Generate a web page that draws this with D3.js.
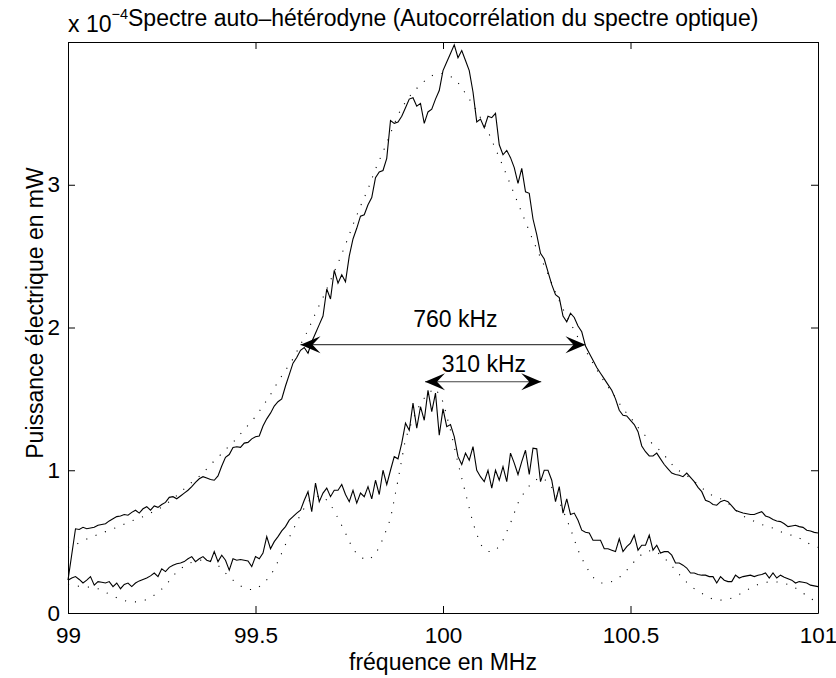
<!DOCTYPE html>
<html>
<head>
<meta charset="utf-8">
<script src="https://cdn.jsdelivr.net/npm/d3@7/dist/d3.min.js"></script>
<style>
  html, body { margin: 0; padding: 0; background: #fff; }
  svg { display: block; }
  text { font-family: "Liberation Sans", Arial, Helvetica, sans-serif; fill: #000; }
</style>
</head>
<body>
<svg id="chart" width="836" height="678"></svg>
<script>
// Frequency axis (MHz) and tick values
const freqStart = 99;
const fineStep = 0.01;   // sampling of the measured spectra
const fitStep = 0.02;    // sampling of the fitted curves
const xTicks = [99, 99.5, 100, 100.5, 101];
const xTickLabels = ["99", "99.5", "100", "100.5", "101"];
const yTicks = [0, 1, 2, 3];
const yTickLabels = ["0", "1", "2", "3"];

// Measured self-heterodyne spectrum, wide line (x 1e-4 mW), 99.00 .. 101.00 MHz
const upperMeasured = [
  0.23, 0.41, 0.59, 0.585, 0.60, 0.59, 0.595, 0.60, 0.615, 0.62,
  0.625, 0.645, 0.66, 0.675, 0.68, 0.69, 0.685, 0.705, 0.72, 0.70,
  0.73, 0.745, 0.72, 0.75, 0.74, 0.76, 0.775, 0.81, 0.815, 0.80,
  0.82, 0.84, 0.86, 0.885, 0.915, 0.94, 0.955, 0.945, 0.935, 0.93,
  0.96, 1.03, 1.09, 1.11, 1.16, 1.165, 1.16, 1.19, 1.195, 1.22,
  1.235, 1.24, 1.31, 1.36, 1.40, 1.45, 1.48, 1.50, 1.59, 1.67,
  1.75, 1.79, 1.84, 1.86, 1.82, 1.90, 1.96, 2.02, 2.08, 2.27,
  2.20, 2.40, 2.31, 2.37, 2.32, 2.50, 2.62, 2.695, 2.78, 2.79,
  2.86, 2.91, 3.05, 3.09, 3.10, 3.185, 3.45, 3.43, 3.44, 3.48,
  3.54, 3.60, 3.61, 3.55, 3.57, 3.43, 3.51, 3.53, 3.60, 3.66,
  3.80, 3.86, 3.92, 3.98, 3.89, 3.94, 3.87, 3.80, 3.65, 3.44,
  3.46, 3.40, 3.48, 3.47, 3.50, 3.28, 3.21, 3.24, 3.19, 3.12,
  3.01, 3.115, 2.95, 2.94, 2.76, 2.65, 2.52, 2.48, 2.39, 2.30,
  2.23, 2.21, 2.08, 2.04, 2.10, 2.07, 2.01, 1.97, 1.87, 1.82,
  1.77, 1.72, 1.68, 1.64, 1.60, 1.56, 1.50, 1.42, 1.385, 1.38,
  1.35, 1.32, 1.27, 1.17, 1.13, 1.10, 1.10, 1.12, 1.08, 1.04,
  1.01, 0.98, 0.97, 0.965, 0.955, 0.98, 0.95, 0.92, 0.88, 0.85,
  0.79, 0.78, 0.76, 0.755, 0.78, 0.79, 0.78, 0.75, 0.72, 0.71,
  0.70, 0.695, 0.69, 0.69, 0.70, 0.71, 0.68, 0.67, 0.655, 0.645,
  0.64, 0.625, 0.605, 0.61, 0.615, 0.605, 0.60, 0.58, 0.575, 0.565,
  0.56
];

// Measured self-heterodyne spectrum, narrow line (x 1e-4 mW), 99.00 .. 101.00 MHz
const lowerMeasured = [
  0.23, 0.245, 0.255, 0.235, 0.21, 0.23, 0.255, 0.195, 0.22, 0.215,
  0.21, 0.22, 0.185, 0.21, 0.17, 0.20, 0.21, 0.185, 0.21, 0.225,
  0.235, 0.245, 0.26, 0.28, 0.255, 0.31, 0.29, 0.32, 0.335, 0.345,
  0.35, 0.36, 0.38, 0.395, 0.36, 0.38, 0.395, 0.37, 0.36, 0.43,
  0.36, 0.405, 0.37, 0.30, 0.38, 0.37, 0.375, 0.37, 0.365, 0.325,
  0.395, 0.38, 0.42, 0.535, 0.45, 0.50, 0.535, 0.575, 0.605, 0.65,
  0.675, 0.70, 0.72, 0.79, 0.85, 0.71, 0.91, 0.78, 0.84, 0.875,
  0.815, 0.86, 0.86, 0.90, 0.83, 0.78, 0.86, 0.77, 0.84, 0.815,
  0.885, 0.80, 0.93, 0.83, 1.00, 0.90, 1.00, 1.095, 1.08, 1.19,
  1.33, 1.28, 1.47, 1.295, 1.445, 1.35, 1.56, 1.41, 1.54, 1.245,
  1.43, 1.305, 1.32, 1.235, 1.095, 1.04, 1.12, 1.07, 1.165, 1.00,
  0.955, 0.92, 1.00, 0.875, 1.00, 0.93, 1.025, 0.92, 1.12, 1.05,
  0.97, 1.06, 1.14, 0.97, 1.155, 1.15, 0.92, 1.00, 1.00, 0.93,
  0.78, 0.885, 0.70, 0.80, 0.69, 0.70, 0.65, 0.58, 0.565, 0.56,
  0.51, 0.51, 0.51, 0.45, 0.45, 0.44, 0.43, 0.52, 0.43, 0.465,
  0.49, 0.545, 0.44, 0.475, 0.475, 0.545, 0.44, 0.475, 0.42, 0.43,
  0.43, 0.405, 0.35, 0.35, 0.335, 0.315, 0.28, 0.28, 0.27, 0.265,
  0.265, 0.255, 0.255, 0.21, 0.255, 0.23, 0.22, 0.22, 0.265, 0.245,
  0.255, 0.26, 0.265, 0.255, 0.265, 0.27, 0.28, 0.245, 0.28, 0.245,
  0.265, 0.25, 0.24, 0.23, 0.21, 0.22, 0.215, 0.21, 0.195, 0.19,
  0.185
];

// Theoretical fits (x 1e-4 mW), 99.00 .. 101.00 MHz every 20 kHz
const upperFit = [
  0.46, 0.48, 0.505, 0.53, 0.55, 0.57, 0.59, 0.61, 0.635, 0.655,
  0.675, 0.70, 0.725, 0.76, 0.80, 0.845, 0.895, 0.935, 0.98, 1.04,
  1.09, 1.145, 1.195, 1.255, 1.315, 1.375, 1.45, 1.53, 1.62, 1.70,
  1.78, 1.88, 1.98, 2.10, 2.21, 2.33, 2.45, 2.58, 2.72, 2.85,
  2.97, 3.11, 3.23, 3.36, 3.49, 3.58, 3.65, 3.70, 3.75, 3.775,
  3.78, 3.76, 3.715, 3.64, 3.56, 3.47, 3.375, 3.25, 3.13, 3.00,
  2.87, 2.74, 2.61, 2.49, 2.375, 2.245, 2.13, 2.03, 1.93, 1.84,
  1.75, 1.66, 1.585, 1.51, 1.43, 1.37, 1.30, 1.24, 1.18, 1.135,
  1.075, 1.01, 0.98, 0.945, 0.90, 0.855, 0.82, 0.80, 0.77, 0.72,
  0.68, 0.655, 0.63, 0.61, 0.595, 0.57, 0.55, 0.54, 0.51, 0.48,
  0.46
];

const lowerFit = [
  0.20, 0.19, 0.185, 0.18, 0.17, 0.145, 0.12, 0.095, 0.08, 0.078,
  0.085, 0.105, 0.145, 0.19, 0.26, 0.31, 0.345, 0.365, 0.372, 0.365,
  0.335, 0.28, 0.23, 0.19, 0.165, 0.165, 0.205, 0.26, 0.36, 0.48,
  0.58, 0.69, 0.78, 0.815, 0.82, 0.76, 0.665, 0.56, 0.445, 0.39,
  0.37, 0.41, 0.52, 0.66, 0.93, 1.22, 1.36, 1.47, 1.54, 1.575,
  1.48, 1.28, 1.05, 0.84, 0.63, 0.48, 0.43, 0.435, 0.51, 0.63,
  0.77, 0.86, 0.92, 0.95, 0.92, 0.84, 0.72, 0.59, 0.44, 0.33,
  0.25, 0.21, 0.21, 0.23, 0.27, 0.33, 0.39, 0.43, 0.44, 0.41,
  0.36, 0.30, 0.24, 0.19, 0.15, 0.125, 0.095, 0.09, 0.095, 0.115,
  0.145, 0.175, 0.20, 0.215, 0.22, 0.215, 0.20, 0.175, 0.14, 0.10,
  0.08
];

// Linewidth annotations: double arrows spanning the measured widths
const spanLabels = ["760 kHz", "310 kHz"];
const spanFrom = [99.62, 99.952];
const spanTo = [100.38, 100.262];
const spanLevel = [1.88, 1.62];
const spanLabelFreq = [100.033, 100.109];

// ---- layout ----
const svg = d3.select("#chart");
const plot = { left: 68, top: 42, right: 818, bottom: 613 };
const fontSize = 23;
const tickFontSize = 22.5;

const x = d3.scaleLinear().domain([99, 101]).range([plot.left, plot.right]);
const y = d3.scaleLinear().domain([0, 4]).range([plot.bottom, plot.top]);

const fineFreq = upperMeasured.map((_, i) => freqStart + i * fineStep);
const fitFreq = upperFit.map((_, i) => freqStart + i * fitStep);

svg.append("rect").attr("width", 836).attr("height", 678).attr("fill", "#fff");

// ---- curves ----
const line = d3.line().x(d => x(d[0])).y(d => y(d[1]));
const zipped = (fs, vs) => vs.map((v, i) => [fs[i], v]);

const curves = svg.append("g").attr("fill", "none");
[upperFit, lowerFit].forEach(vals => {
  curves.append("path")
    .attr("d", line(zipped(fitFreq, vals)))
    .attr("stroke", "#000")
    .attr("stroke-width", 1.1)
    .attr("stroke-dasharray", "1.1 8.9");
});
[upperMeasured, lowerMeasured].forEach(vals => {
  curves.append("path")
    .attr("d", line(zipped(fineFreq, vals)))
    .attr("stroke", "#000")
    .attr("stroke-width", 1.1)
    .attr("stroke-linejoin", "miter");
});

// ---- axes (MATLAB style box with inward ticks) ----
const tick = 7;
function styleAxis(g) {
  g.attr("font-size", null).attr("font-family", null);
  g.selectAll(".domain").attr("stroke", "#000");
  g.selectAll(".tick line").attr("stroke", "#000");
  g.selectAll(".tick text").attr("font-size", tickFontSize);
}
svg.append("g")
  .attr("transform", `translate(0,${plot.bottom})`)
  .call(d3.axisBottom(x).tickValues(xTicks).tickFormat((d, i) => xTickLabels[i])
        .tickSizeInner(-tick).tickSizeOuter(0).tickPadding(14.5))
  .call(styleAxis);
svg.append("g")
  .attr("transform", `translate(0,${plot.top})`)
  .call(d3.axisTop(x).tickValues(xTicks).tickFormat("")
        .tickSizeInner(-tick).tickSizeOuter(0))
  .call(styleAxis);
svg.append("g")
  .attr("transform", `translate(${plot.left},0)`)
  .call(d3.axisLeft(y).tickValues(yTicks).tickFormat((d, i) => yTickLabels[i])
        .tickSizeInner(-tick).tickSizeOuter(0).tickPadding(8))
  .call(styleAxis);
svg.append("g")
  .attr("transform", `translate(${plot.right},0)`)
  .call(d3.axisRight(y).tickValues(yTicks).tickFormat("")
        .tickSizeInner(-tick).tickSizeOuter(0))
  .call(styleAxis);

// ---- annotations ----
function arrowHead(tipX, tipY, dir) {
  const len = 20, half = 8.5, notch = 12;
  const p = d3.path();
  p.moveTo(tipX, tipY);
  p.lineTo(tipX - dir * len, tipY - half);
  p.lineTo(tipX - dir * notch, tipY);
  p.lineTo(tipX - dir * len, tipY + half);
  p.closePath();
  return p.toString();
}
const notes = svg.append("g");
spanLabels.forEach((label, i) => {
  const x0 = x(spanFrom[i]), x1 = x(spanTo[i]), yy = y(spanLevel[i]);
  notes.append("line")
    .attr("x1", x0).attr("x2", x1).attr("y1", yy).attr("y2", yy)
    .attr("stroke", "#444").attr("stroke-width", 1.2);
  notes.append("path").attr("d", arrowHead(x0, yy, -1)).attr("fill", "#000");
  notes.append("path").attr("d", arrowHead(x1, yy, 1)).attr("fill", "#000");
  notes.append("text")
    .attr("x", x(spanLabelFreq[i]))
    .attr("y", yy - (i === 0 ? 18 : 10))
    .attr("text-anchor", "middle")
    .attr("font-size", fontSize)
    .text(label);
});

// ---- titles and labels ----
const expo = svg.append("text").attr("x", plot.left).attr("y", 31.5).attr("font-size", fontSize);
expo.append("tspan").text("x 10");
expo.append("tspan").attr("font-size", 14.5).attr("dy", -13).text("\u22124");

svg.append("text")
  .attr("x", 128).attr("y", 26)
  .attr("font-size", fontSize)
  .text("Spectre auto\u2013hétérodyne (Autocorrélation du spectre optique)");

svg.append("text")
  .attr("x", (plot.left + plot.right) / 2).attr("y", 670)
  .attr("text-anchor", "middle")
  .attr("font-size", fontSize)
  .text("fréquence en MHz");

svg.append("text")
  .attr("transform", `translate(43,313) rotate(-90)`)
  .attr("text-anchor", "middle")
  .attr("font-size", fontSize)
  .text("Puissance électrique en mW");
</script>
</body>
</html>
